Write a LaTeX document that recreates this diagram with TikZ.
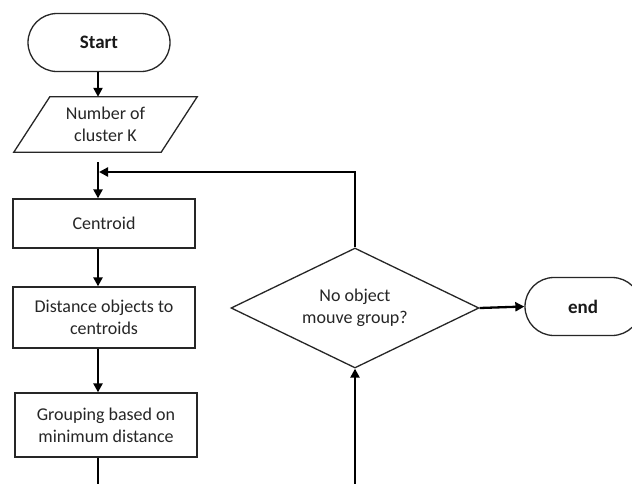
\documentclass[tikz,border=0pt]{standalone}
\usepackage{fontspec}
\setmainfont{Carlito}
\usetikzlibrary{shapes.geometric,arrows.meta,calc}
\begin{document}
\begin{tikzpicture}[x=1pt,y=-1pt,
  shapeline/.style={draw=black!85,line width=1.3pt},
  conn/.style={black,line width=2.3pt},
  arrow/.style={conn,-{Triangle[length=9pt,width=9pt]}},
  txt/.style={text=black!85,font=\fontsize{18}{22}\selectfont,align=center,inner sep=0pt},
  btxt/.style={text=black!90,font=\fontsize{19}{23}\selectfont\bfseries,align=center,inner sep=0pt},
  procbox/.style={shapeline,txt,minimum width=182pt},
  terminal/.style={shapeline,btxt,rounded corners=29pt,minimum height=58pt}]
\useasboundingbox (0,0) rectangle (632,483);
\clip (0,0) rectangle (632,483);
\fill[white] (0,0) rectangle (632,483);

\coordinate (axis) at (98,0);

\node[terminal,minimum width=142pt] (start) at (99,42.5) {Start};

\node[txt,minimum width=147pt,minimum height=55pt] (num) at (105.5,124.5) {Number of\\cluster K};
\draw[shapeline] ($(num.north west)+(18,0)$) -- ($(num.north east)+(18,0)$)
  -- ($(num.south east)+(-18,0)$) -- ($(num.south west)+(-18,0)$) -- cycle;

\node[procbox,minimum height=49pt] (cent) at (104,223.5) {Centroid};
\node[procbox,minimum height=61pt] (dist) at (104,317.5) {Distance objects to\\centroids};
\node[procbox,minimum height=64pt] (grp) at (106,425) {Grouping based on\\minimum distance};

\node[shape=diamond,shapeline,txt,aspect=2,minimum width=248pt,minimum height=120pt] (dec) at (355,308) {No object\\mouve group?};

\node[terminal,minimum width=116pt] (endn) at (583,306.5) {end};

\coordinate (gapstart) at (98,162);
\coordinate (join) at (99,172);

\draw[arrow] (start.south -| axis) -- (num.north -| axis);
\draw[arrow] (gapstart) -- (cent.north -| axis);
\draw[arrow] (cent.south -| axis) -- (dist.north -| axis);
\draw[arrow] (dist.south -| axis) -- (grp.north -| axis);
\draw[arrow] (dec.north) |- (join);
\draw[arrow] (dec.east) -- (endn.west);
\draw[arrow] (grp.south -| axis) -- ++(0,45) -| (dec.south);
\end{tikzpicture}
\end{document}
